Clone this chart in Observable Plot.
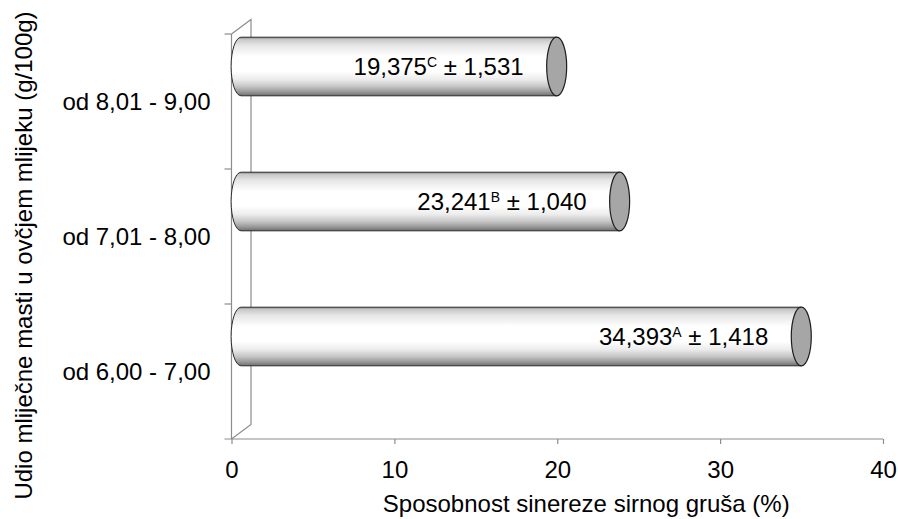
<!DOCTYPE html>
<html>
<head>
<meta charset="utf-8">
<script src="https://cdn.jsdelivr.net/npm/d3@7"></script>
<script src="https://cdn.jsdelivr.net/npm/@observablehq/plot@0.6"></script>
<style>
  html, body { margin: 0; padding: 0; background: #ffffff; }
  svg { display: block; }
</style>
</head>
<body>
<div id="chart"></div>
<script>
// ---- data (top to bottom as drawn) ----
const categories = ["od 8,01 - 9,00", "od 7,01 - 8,00", "od 6,00 - 7,00"];
const means = [19.375, 23.241, 34.393];
const sds = [1.531, 1.040, 1.418];
const letters = ["C", "B", "A"];
const xTicks = [0, 10, 20, 30, 40];
const xTitle = "Sposobnost sinereze sirnog gruša (%)";
const yTitle = "Udio mliječne masti u ovčjem mlijeku (g/100g)";

const data = categories.map((c, i) => ({category: c, mean: means[i], sd: sds[i], letter: letters[i]}));
const fmt = v => v.toFixed(3).replace(".", ",");

const FONT = "'Liberation Sans', Arial, sans-serif";
const AXIS = "#8c8c8c";
const WALL_DX = 19.5, WALL_DY = 14.5;   // 3D depth of the back wall
const BAR_DX = 9.6;                      // cylinder sits in mid-depth
const BAR_CY = 32.5;                     // cylinder centre below band top
const RY = 29.3, RX = 10;

function walls(index, scales, values, dimensions) {
  const x = scales.x, y = scales.y;
  const {width, height, marginTop, marginBottom, marginLeft} = dimensions;
  const x0 = x(0);
  const yT = marginTop, yB = height - marginBottom;
  const g = d3.create("svg:g").attr("fill", "none").attr("stroke", AXIS).attr("stroke-width", 1.2);
  // back wall
  g.append("path").attr("d",
    `M${x0},${yT} L${x0 + WALL_DX},${yT - WALL_DY} L${x0 + WALL_DX},${yB - WALL_DY} L${x0},${yB}`);
  // front y axis line
  g.append("line").attr("x1", x0).attr("x2", x0).attr("y1", yT).attr("y2", yB);
  // x axis line
  g.append("line").attr("x1", x0 - 7).attr("x2", x(xTicks[xTicks.length - 1])).attr("y1", yB).attr("y2", yB);
  // y ticks at band boundaries
  categories.forEach(c => {
    const yy = y(c);
    g.append("line").attr("x1", x0 - 7).attr("x2", x0).attr("y1", yy).attr("y2", yy);
  });
  // titles
  const t = d3.create("svg:g").attr("font-family", FONT).attr("font-size", 24).attr("fill", "#000");
  t.append("text").attr("x", (x0 + x(40)) / 2 + 29).attr("y", height - 7)
    .attr("text-anchor", "middle").text(xTitle);
  t.append("text").attr("transform", `translate(32,${(yT + yB) / 2 + 19}) rotate(-90)`)
    .attr("text-anchor", "middle").text(yTitle);
  const root = d3.create("svg:g");
  root.append(() => g.node());
  root.append(() => t.node());
  return root.node();
}

function cylinders(index, scales, values, dimensions) {
  const x = scales.x, y = scales.y;
  const g = d3.create("svg:g");
  const defs = g.append("defs");
  const grad = defs.append("linearGradient").attr("id", "cylGrad")
    .attr("x1", 0).attr("y1", 0).attr("x2", 0).attr("y2", 1);
  [[0, "#8a8a8a"], [0.04, "#c8c8c8"], [0.14, "#e6e6e6"], [0.33, "#ffffff"], [0.58, "#ffffff"],
   [0.72, "#ececec"], [0.84, "#c6c6c6"], [0.93, "#9a9a9a"], [1, "#6e6e6e"]]
    .forEach(([o, c]) => grad.append("stop").attr("offset", o).attr("stop-color", c));

  data.forEach(d => {
    const xa = x(0) + BAR_DX, xb = x(d.mean) + BAR_DX;
    const cy = y(d.category) + BAR_CY;
    const top = cy - RY, bot = cy + RY;
    g.append("path")
      .attr("d", `M${xb},${top} L${xa},${top} A${RX},${RY} 0 0 0 ${xa},${bot} L${xb},${bot} Z`)
      .attr("fill", "url(#cylGrad)");
    g.append("path")
      .attr("d", `M${xb},${top} L${xa},${top} A${RX},${RY} 0 0 0 ${xa},${bot} L${xb},${bot}`)
      .attr("fill", "none").attr("stroke", "#2a2a2a").attr("stroke-width", 1);
    g.append("ellipse").attr("cx", xb).attr("cy", cy).attr("rx", RX).attr("ry", RY)
      .attr("fill", "#a6a6a6").attr("stroke", "#1e1e1e").attr("stroke-width", 1.2);
    const txt = g.append("text").attr("x", xb - 33).attr("y", cy + 8.5)
      .attr("text-anchor", "end").attr("font-family", FONT).attr("font-size", 24).attr("fill", "#000");
    txt.append("tspan").text(fmt(d.mean));
    txt.append("tspan").attr("font-size", 14).attr("dy", -8).text(d.letter);
    txt.append("tspan").attr("dy", 8).text(" ± " + fmt(d.sd));
  });
  return g.node();
}

const chart = Plot.plot({
  width: 898,
  height: 519,
  marginLeft: 231.5,
  marginRight: 15,
  marginTop: 34,
  marginBottom: 80,
  style: {fontFamily: FONT, fontSize: "24px", color: "#000", background: "#fff", overflow: "visible"},
  x: {domain: [0, 40]},
  y: {type: "band", domain: categories, padding: 0},
  marks: [
    walls,
    Plot.axisX({ticks: xTicks, tickSize: 5, tickPadding: 16, stroke: AXIS, strokeWidth: 1.2,
                fontSize: 24, label: null, tickFormat: d => d}),
    Plot.axisY({tickSize: 0, tickPadding: 21.5, fontSize: 24, label: null}),
    cylinders
  ]
});
document.getElementById("chart").appendChild(chart);
</script>
</body>
</html>
